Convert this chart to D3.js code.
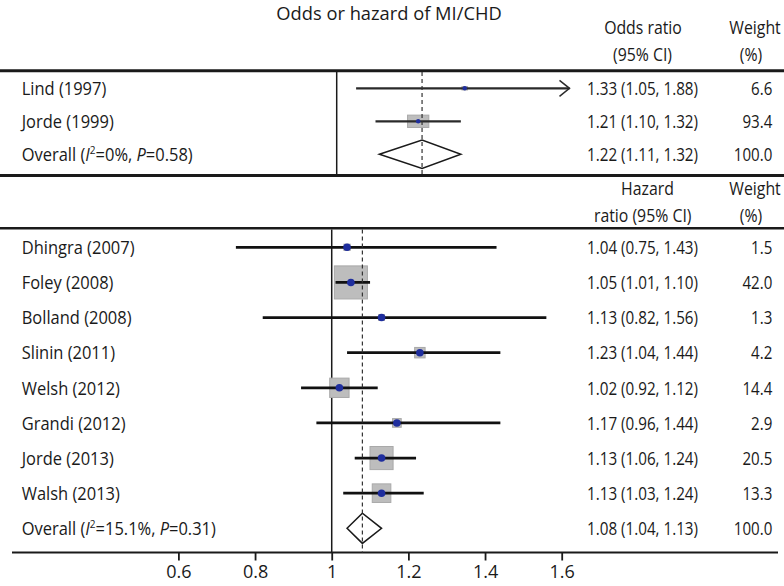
<!DOCTYPE html>
<html><head><meta charset="utf-8">
<script src="https://cdn.jsdelivr.net/npm/d3@7"></script>
<style>html,body{margin:0;padding:0;background:#fff}svg{display:block}text{font-family:"Open Sans",sans-serif;fill:#1a1a1a}</style>
</head><body><svg id="c" width="784" height="586"></svg>
<script>
// ---- data ----
const title = "Odds or hazard of MI/CHD";
const topStudies = ["Lind (1997)", "Jorde (1999)"];
const topEst = [1.33, 1.21];
const topLo = [1.05, 1.10];
const topHi = [1.88, 1.32];
const topWeight = [6.6, 93.4];
const topCI = ["1.33 (1.05, 1.88)", "1.21 (1.10, 1.32)"];
const topWeightText = ["6.6", "93.4"];
const topOverall = {est: 1.22, lo: 1.11, hi: 1.32, ci: "1.22 (1.11, 1.32)", w: "100.0", i2: "0%", p: "0.58"};
const topHeader = [["Odds ratio", "(95% CI)"], ["Weight", "(%)"]];

const botStudies = ["Dhingra (2007)", "Foley (2008)", "Bolland (2008)", "Slinin (2011)", "Welsh (2012)", "Grandi (2012)", "Jorde (2013)", "Walsh (2013)"];
const botEst = [1.04, 1.05, 1.13, 1.23, 1.02, 1.17, 1.13, 1.13];
const botLo = [0.75, 1.01, 0.82, 1.04, 0.92, 0.96, 1.06, 1.03];
const botHi = [1.43, 1.10, 1.56, 1.44, 1.12, 1.44, 1.22, 1.24];
const botWeight = [1.5, 42.0, 1.3, 4.2, 14.4, 2.9, 20.5, 13.3];
const botCI = ["1.04 (0.75, 1.43)", "1.05 (1.01, 1.10)", "1.13 (0.82, 1.56)", "1.23 (1.04, 1.44)", "1.02 (0.92, 1.12)", "1.17 (0.96, 1.44)", "1.13 (1.06, 1.24)", "1.13 (1.03, 1.24)"];
const botWeightText = ["1.5", "42.0", "1.3", "4.2", "14.4", "2.9", "20.5", "13.3"];
const botOverall = {est: 1.08, lo: 1.04, hi: 1.13, ci: "1.08 (1.04, 1.13)", w: "100.0", i2: "15.1%", p: "0.31"};
const botHeader = [["Hazard", "ratio (95% CI)"], ["Weight", "(%)"]];

const tickValues = [0.6, 0.8, 1.0, 1.2, 1.4, 1.6];
const tickLabels = ["0.6", "0.8", "1", "1.2", "1.4", "1.6"];

// ---- drawing ----
const svg = d3.select("#c");
const INK = "#1a1a1a";
const xTop = d3.scaleLinear().domain([1.0, 1.6]).range([336.7, 569.5]);
const xBot = d3.scaleLinear().domain([0.6, 1.6]).range([178.4, 561.7]);
const yTop = d3.scalePoint().domain(d3.range(3)).range([88.3, 154.3]);
const yBot = d3.scalePoint().domain(d3.range(9)).range([247.3, 528.3]);

function txt(x, y, s, opt = {}) {
  const t = svg.append("text")
    .attr("transform", `translate(${x},${y}) scale(${opt.sx || 1},1)`)
    .attr("font-size", opt.fs || 18)
    .attr("text-anchor", opt.anchor || "start")
    .text(s);
  return t;
}
function hline(y, x1, x2, w) {
  svg.append("line").attr("x1", x1).attr("x2", x2).attr("y1", y).attr("y2", y)
    .attr("stroke", INK).attr("stroke-width", w);
}

// title
txt(389, 20, title, {anchor: "middle", sx: 0.99, fs: 18.5});

// rules
hline(70.7, 0, 784, 3);
hline(175.5, 0, 784, 3);
hline(228.3, 0, 784, 2.5);
hline(552.5, 12, 778, 2);

// headers
const LSX = 0.915, HSX = 0.88, CISX = 0.845, WSX = 0.84;
txt(643, 34, topHeader[0][0], {anchor: "middle", sx: HSX});
txt(642.5, 61, topHeader[0][1], {anchor: "middle", sx: HSX});
txt(755, 34, topHeader[1][0], {anchor: "middle", sx: HSX});
txt(751, 61, topHeader[1][1], {anchor: "middle", sx: HSX});
txt(647.5, 195, botHeader[0][0], {anchor: "middle", sx: HSX});
txt(642.7, 221.7, botHeader[0][1], {anchor: "middle", sx: HSX});
txt(755, 195, botHeader[1][0], {anchor: "middle", sx: HSX});
txt(751, 221.7, botHeader[1][1], {anchor: "middle", sx: HSX});

function overallLabel(x, y, o) {
  const t = svg.append("text")
    .attr("transform", `translate(${x},${y}) scale(${LSX},1)`)
    .attr("font-size", 18);
  t.append("tspan").text("Overall (");
  t.append("tspan").attr("font-style", "italic").text("I");
  t.append("tspan").attr("font-size", 11).attr("dy", -7).text("2");
  t.append("tspan").attr("dy", 7).text("=" + o.i2 + ", ");
  t.append("tspan").attr("font-style", "italic").text("P");
  t.append("tspan").text("=" + o.p + ")");
}

function panel(x, y, studies, est, lo, hi, wt, ci, wtxt, ov, boxW, boxH, dotR, lineW, lineCol, y0, y1) {
  const n = studies.length;
  // null line
  svg.append("line").attr("x1", x(1)).attr("x2", x(1)).attr("y1", y0).attr("y2", y1)
    .attr("stroke", INK).attr("stroke-width", 1.5);
  const xmax = x.domain()[1];
  for (let i = 0; i < n; i++) {
    const cy = y(i);
    const bw = boxW(wt[i]), bh = boxH(wt[i]);
    svg.append("rect").attr("x", x(est[i]) - bw / 2).attr("y", cy - bh / 2)
      .attr("width", bw).attr("height", bh)
      .attr("fill", "#bdbdbd").attr("stroke", "#a9a9a9").attr("stroke-width", 1);
    const clipped = hi[i] > xmax;
    const xe = x(Math.min(hi[i], xmax));
    svg.append("line").attr("x1", x(lo[i])).attr("x2", xe).attr("y1", cy).attr("y2", cy)
      .attr("stroke", lineCol).attr("stroke-width", lineW);
    if (clipped) {
      svg.append("path").attr("d", `M${xe - 10},${cy - 8}L${xe},${cy}L${xe - 10},${cy + 8}`)
        .attr("fill", "none").attr("stroke", lineCol).attr("stroke-width", 1.5);
    }
    svg.append("circle").attr("cx", x(est[i])).attr("cy", cy).attr("r", dotR).attr("fill", "#1f2e9e");
    txt(21.7, cy + 6.7, studies[i], {sx: LSX});
    txt(587, cy + 6.7, ci[i], {sx: CISX});
    txt(772.3, cy + 6.7, wtxt[i], {anchor: "end", sx: WSX});
  }
  const cy = y(n);
  const hh = (y(1) - y(0)) * 0.43;
  svg.append("path")
    .attr("d", `M${x(ov.lo)},${cy}L${x(ov.est)},${cy - hh}L${x(ov.hi)},${cy}L${x(ov.est)},${cy + hh}Z`)
    .attr("fill", "none").attr("stroke", INK).attr("stroke-width", 1.5);
  // dashed overall line
  svg.append("line").attr("x1", x(ov.est)).attr("x2", x(ov.est)).attr("y1", y0).attr("y2", y1)
    .attr("stroke", "#333").attr("stroke-width", 1.2).attr("stroke-dasharray", "4,3");
  overallLabel(21.7, cy + 6.7, ov);
  txt(587, cy + 6.7, ov.ci, {sx: CISX});
  txt(772.3, cy + 6.7, ov.w, {anchor: "end", sx: WSX});
}

const topBoxW = d3.scaleSqrt().domain([0, 100]).range([0, 22]);
const topBoxH = d3.scaleSqrt().domain([0, 100]).range([0, 12.8]);
const botBox = d3.scaleSqrt().domain([0, 100]).range([0, 51]);

panel(xTop, yTop, topStudies, topEst, topLo, topHi, topWeight, topCI, topWeightText, topOverall,
  topBoxW, topBoxH, 2.2, 2.2, "#2a2a2a", 72, 174);
panel(xBot, yBot, botStudies, botEst, botLo, botHi, botWeight, botCI, botWeightText, botOverall,
  botBox, botBox, 3.8, 2.8, "#111", 229.5, 552.5);

// axis
const axis = d3.axisBottom(xBot).tickValues(tickValues)
  .tickFormat((d, i) => tickLabels[i]).tickSize(8).tickPadding(5);
const g = svg.append("g").attr("transform", "translate(0,552.5)").call(axis);
g.select(".domain").remove();
g.selectAll(".tick line").attr("stroke", INK).attr("stroke-width", 1.8);
g.selectAll(".tick text").attr("font-size", 18).attr("font-family", '"Open Sans",sans-serif').attr("fill", INK);
</script></body></html>
